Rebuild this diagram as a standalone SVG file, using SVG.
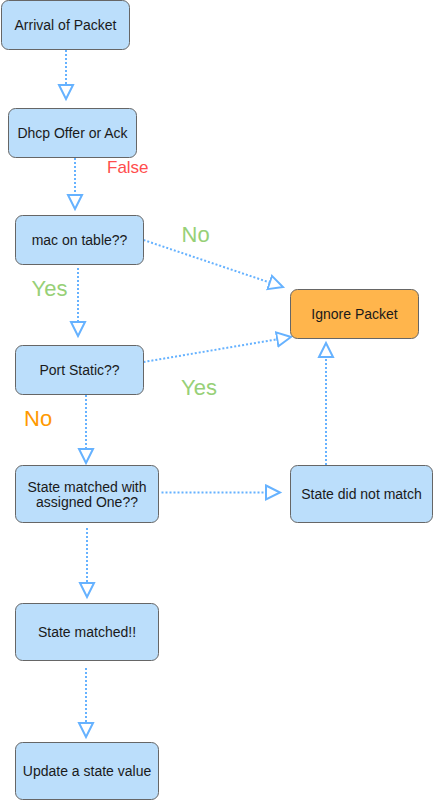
<svg xmlns="http://www.w3.org/2000/svg" width="434" height="800" viewBox="0 0 434 800">
<style>
.box{fill:#bbdefb;stroke:#666;stroke-width:1}
.orange{fill:#ffb54c;stroke:#666;stroke-width:1}
.t{font-family:"Liberation Sans",Arial,sans-serif;font-size:14px;fill:#1a1a1a;text-anchor:middle}
.lbl{font-family:"Liberation Sans",Arial,sans-serif;font-size:22px}
.c{fill:none;stroke:#66b2ff;stroke-width:2;stroke-dasharray:2 2;marker-end:url(#ah)}
</style>
<defs>
<marker id="ah" markerUnits="userSpaceOnUse" markerWidth="20" markerHeight="20" refX="1" refY="8" orient="auto" viewBox="0 0 20 16">
<path d="M1,1 L15,8 L1,15 Z" fill="#fff" stroke="#66b2ff" stroke-width="2"/>
</marker>
</defs>
<rect width="434" height="800" fill="#fff"/>
<g id="connectors">
<path class="c" d="M66,50 V85"/>
<path class="c" d="M75,158 V195"/>
<path class="c" d="M78,268 V322"/>
<path class="c" d="M143.5,240 L269.7,282.5"/>
<path class="c" d="M143.5,362 L277.2,339.3"/>
<path class="c" d="M86,395 V449"/>
<path class="c" d="M161.5,492.5 H266"/>
<path class="c" d="M326,465 V357"/>
<path class="c" d="M87,528 V583"/>
<path class="c" d="M86,668 V723"/>
</g>
<g id="n-arrival"><rect class="box" x="1.5" y="0.5" width="128" height="49" rx="7"/><text class="t" x="65.5" y="30">Arrival of Packet</text></g>
<g id="n-dhcp"><rect class="box" x="8.5" y="108.5" width="128" height="49" rx="7"/><text class="t" x="72.5" y="138">Dhcp Offer or Ack</text></g>
<g id="n-mac"><rect class="box" x="15.5" y="215.5" width="128" height="49" rx="7"/><text class="t" x="79.5" y="245">mac on table??</text></g>
<g id="n-ignore"><rect class="orange" x="290.5" y="289.5" width="128" height="49" rx="7"/><text class="t" x="354.5" y="319">Ignore Packet</text></g>
<g id="n-port"><rect class="box" x="15.5" y="345.5" width="128" height="49" rx="7"/><text class="t" x="79.5" y="375">Port Static??</text></g>
<g id="n-statewith"><rect class="box" x="15.5" y="465.5" width="143" height="57" rx="7"/><text class="t" x="87" y="491.5">State matched with<tspan x="87" y="507">assigned One??</tspan></text></g>
<g id="n-notmatch"><rect class="box" x="290.5" y="465.5" width="142" height="57" rx="7"/><text class="t" x="361.5" y="498.5">State did not match</text></g>
<g id="n-matched"><rect class="box" x="15.5" y="603.5" width="143" height="57" rx="7"/><text class="t" x="87" y="637">State matched!!</text></g>
<g id="n-update"><rect class="box" x="15.5" y="742.5" width="143" height="57" rx="7"/><text class="t" x="87" y="776">Update a state value</text></g>
<g id="labels">
<text x="107" y="173.3" font-family="Liberation Sans, Arial, sans-serif" font-size="17" fill="#ff4d4d">False</text>
<text class="lbl" x="181.5" y="241.7" fill="#97d077">No</text>
<text class="lbl" x="31.5" y="295.7" fill="#97d077">Yes</text>
<text class="lbl" x="181" y="395" fill="#97d077">Yes</text>
<text class="lbl" x="24" y="425.7" fill="#ff9900">No</text>
</g>
</svg>
